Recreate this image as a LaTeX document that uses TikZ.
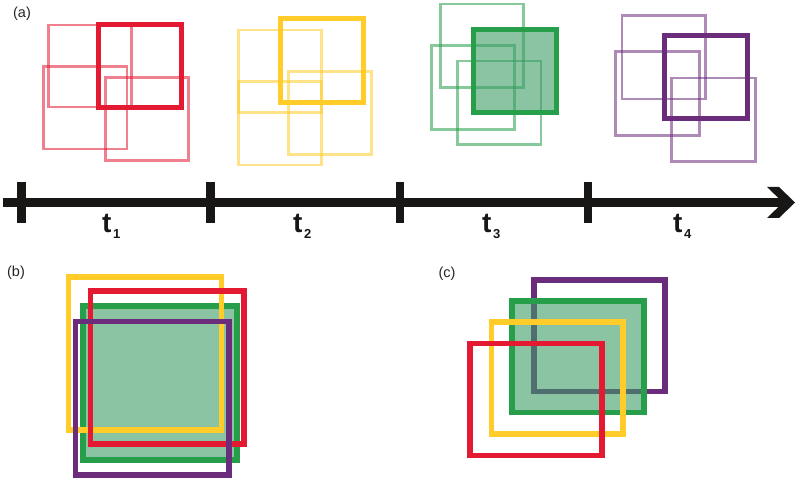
\documentclass[tikz,border=0pt]{standalone}
\usepackage{fontspec}
\setmainfont{Liberation Sans}
\begin{document}
\begin{tikzpicture}[x=1pt,y=-1pt]
\definecolor{cred}{RGB}{227,26,50}
\definecolor{cyel}{RGB}{255,204,41}
\definecolor{cgrn}{RGB}{38,158,74}
\definecolor{cgfill}{RGB}{60,157,103}
\definecolor{cpur}{RGB}{108,44,124}
\definecolor{caxis}{RGB}{25,22,22}
\tikzset{
  light/.style={line width=2.6pt, draw opacity=0.55},
  boldsq/.style={line width=5pt},
  bigsq/.style={line width=5.6pt},
  gfill/.style={fill=cgfill, fill opacity=0.6},
  lbl/.style={font=\fontsize{14.5}{14.5}\selectfont, inner sep=0, text=black!85},
  tlab/.style={font=\fontsize{28}{28}\selectfont\bfseries, inner sep=0, anchor=base west, text=caxis},
  tickmark/.style={fill=caxis}
}
\useasboundingbox (0,0) rectangle (798,481);
\fill[white] (0,0) rectangle (798,481);

% labels
\node[lbl] (la) at (22,14) {(a)};
\node[lbl] (lb) at (16,273) {(b)};
\node[lbl] (lc) at (447,274) {(c)};

% group 1 (red)
\draw[light, cred] (48.5,25) rectangle (131.5,107);
\draw[light, cred] (43.7,66.3) rectangle (127,149);
\draw[light, cred] (105.3,77.3) rectangle (188.7,160.7);
\draw[boldsq, cred] (98.3,25) rectangle (181,107.7);

% group 2 (yellow)
\draw[light, cyel] (238.7,30) rectangle (321.3,112.7);
\draw[light, cyel] (238.7,81.7) rectangle (321.3,165);
\draw[light, cyel] (288.3,71.3) rectangle (371.7,154.7);
\draw[boldsq, cyel] (280.3,18.7) rectangle (363.3,102.3);

% group 3 (green)
\draw[light, cgrn] (440.3,4) rectangle (523.7,87.7);
\draw[light, cgrn] (431.3,45.7) rectangle (514.7,129.3);
\draw[light, cgrn] (457.3,61) rectangle (541,144.3);
\fill[gfill] (473,30) rectangle (556,113);
\draw[boldsq, cgrn] (473,30) rectangle (556,113);

% group 4 (purple)
\draw[light, cpur] (622,15.3) rectangle (705.7,99);
\draw[light, cpur] (615.7,51.7) rectangle (699.3,135.3);
\draw[light, cpur] (671.7,78) rectangle (755.3,161.7);
\draw[boldsq, cpur] (664,36) rectangle (747.3,119);

% timeline
\coordinate (ax0) at (3,202.5);
\coordinate (ax1) at (784,202.5);
\draw[line width=8.3pt, caxis] (ax0) -- (ax1);
\fill[caxis] (767,187) -- (779,187) -- (795,202.5) -- (779,218) -- (767,218) -- (783,202.5) -- cycle;
\foreach \x in {21.5,210.7,400,588}{
  \fill[tickmark] (\x-4.3,181.7) rectangle (\x+4.3,223);
}
\node[tlab] (t1) at (102,233) {t\hspace{1.5pt}\raisebox{-6pt}{\fontsize{13}{13}\selectfont 1}};
\node[tlab] (t2) at (293,233) {t\hspace{1.5pt}\raisebox{-6pt}{\fontsize{13}{13}\selectfont 2}};
\node[tlab] (t3) at (482,233) {t\hspace{1.5pt}\raisebox{-6pt}{\fontsize{13}{13}\selectfont 3}};
\node[tlab] (t4) at (673,233) {t\hspace{1.5pt}\raisebox{-6pt}{\fontsize{13}{13}\selectfont 4}};

% panel (b)
\fill[gfill] (83,306) rectangle (236.7,459.7);
\draw[bigsq, cgrn] (83,306) rectangle (236.7,459.7);
\draw[bigsq, cyel] (68.3,276.7) rectangle (221.3,430);
\draw[bigsq, cred] (90.3,291) rectangle (244,444);
\draw[bigsq, cpur] (75.3,321.3) rectangle (229,475);

% panel (c)
\draw[bigsq, cpur] (533.7,280) rectangle (665,391.3);
\fill[gfill] (512,301) rectangle (644,412.3);
\draw[bigsq, cgrn] (512,301) rectangle (644,412.3);
\draw[bigsq, cyel] (491.3,322) rectangle (622.7,434);
\draw[bigsq, cred] (470,343.3) rectangle (601.7,455.3);
\end{tikzpicture}
\end{document}
